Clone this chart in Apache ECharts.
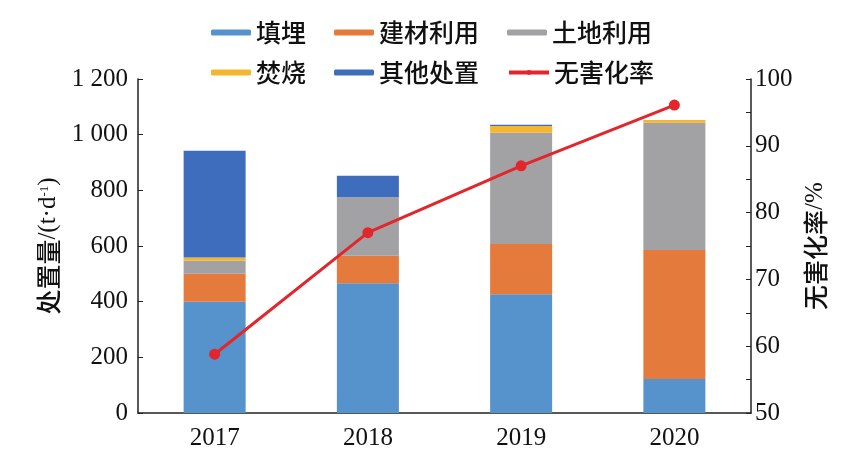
<!DOCTYPE html>
<html><head><meta charset="utf-8">
<script src="https://cdn.jsdelivr.net/npm/echarts@6/dist/echarts.min.js"></script>
<style>html,body{margin:0;padding:0;background:#fff}#c{width:868px;height:465px}</style>
</head><body><div id="c"></div>
<script>
const years = ['2017', '2018', '2019', '2020'];
const landfill = [400, 466, 427, 122];
const buildingUse = [100, 99, 180, 464];
const landUse = [47, 210, 400, 457];
const incineration = [12, 0, 24, 10];
const otherDisposal = [383, 77, 5, 0];
const harmlessRate = [58.8, 77, 87, 96.1];
const leftTicks = { min: 0, max: 1200, interval: 200 };
const rightTicks = { min: 50, max: 100, interval: 10 };

const serif = 'Liberation Serif';
const cjk = 'Noto Sans CJK SC';
const axisColor = '#222';
const chart = echarts.init(document.getElementById('c'));
const fmtThousand = v => { const s = String(v); return s.length > 3 ? s.slice(0, s.length - 3) + ' ' + s.slice(-3) : s; };
const barBase = { type: 'bar', stack: 'a', barWidth: 62, yAxisIndex: 0 };
const legendText = { fontFamily: cjk, fontSize: 25, color: '#111', fontWeight: 500 };
chart.setOption({
  animation: false,
  legend: [
    { data: ['填埋', '建材利用', '土地利用'], left: 206, top: 15, itemWidth: 40, itemHeight: 6, itemGap: 28, textStyle: legendText },
    { data: ['焚烧', '其他处置', { name: '无害化率', lineStyle: { width: 4 }, itemStyle: { borderWidth: 0 } }], left: 206, top: 55, itemWidth: 40, itemHeight: 6, itemGap: 28, textStyle: legendText }
  ],
  grid: { left: 138, right: 117, top: 79, bottom: 52 },
  xAxis: {
    type: 'category', data: years, boundaryGap: true,
    axisLine: { lineStyle: { color: axisColor, width: 1.5 } },
    axisTick: { inside: true, length: 5, lineStyle: { color: axisColor } },
    axisLabel: { fontFamily: serif, fontSize: 25, color: '#111', margin: 13 }
  },
  yAxis: [
    {
      type: 'value', min: leftTicks.min, max: leftTicks.max, interval: leftTicks.interval,
      name: '{c|处置量}{s|/(t·d}{p|-1}{s|)}', nameLocation: 'middle', nameRotate: 90, nameGap: 70,
      nameTextStyle: { rich: {
        c: { fontFamily: cjk, fontSize: 25, color: '#111', fontWeight: 500 },
        s: { fontFamily: serif, fontSize: 25, color: '#111' },
        p: { fontFamily: serif, fontSize: 13, color: '#111', verticalAlign: 'top', padding: [2, 0, 0, 0] }
      } },
      axisLine: { show: true, lineStyle: { color: axisColor, width: 1.5 } },
      axisTick: { show: true, inside: true, length: 5, lineStyle: { color: axisColor } },
      axisLabel: { fontFamily: serif, fontSize: 25, color: '#111', margin: 10, formatter: fmtThousand },
      splitLine: { show: false }
    },
    {
      type: 'value', position: 'right', min: rightTicks.min, max: rightTicks.max, interval: rightTicks.interval,
      name: '{c|无害化率}{s|/%}', nameLocation: 'middle', nameRotate: 90, nameGap: 36,
      nameTextStyle: { rich: {
        c: { fontFamily: cjk, fontSize: 25, color: '#111', fontWeight: 500 },
        s: { fontFamily: serif, fontSize: 25, color: '#111' }
      } },
      axisLine: { show: true, lineStyle: { color: axisColor, width: 1.5 } },
      axisTick: { show: true, inside: true, length: 5, lineStyle: { color: axisColor } },
      minorTick: { show: true, splitNumber: 2, length: 5, lineStyle: { color: axisColor } },
      axisLabel: { fontFamily: serif, fontSize: 25, color: '#111', margin: 4 },
      splitLine: { show: false }
    }
  ],
  series: [
    Object.assign({ name: '填埋', data: landfill, itemStyle: { color: '#5692CC' } }, barBase),
    Object.assign({ name: '建材利用', data: buildingUse, itemStyle: { color: '#E47A3C' } }, barBase),
    Object.assign({ name: '土地利用', data: landUse, itemStyle: { color: '#A2A2A4' } }, barBase),
    Object.assign({ name: '焚烧', data: incineration, itemStyle: { color: '#F4B62F' } }, barBase),
    Object.assign({ name: '其他处置', data: otherDisposal, itemStyle: { color: '#3E6DBE' } }, barBase),
    {
      name: '无害化率', type: 'line', yAxisIndex: 1, data: harmlessRate,
      symbol: 'circle', symbolSize: 11,
      lineStyle: { color: '#E2262B', width: 3 }, itemStyle: { color: '#E2262B' }
    }
  ]
});
</script></body></html>
